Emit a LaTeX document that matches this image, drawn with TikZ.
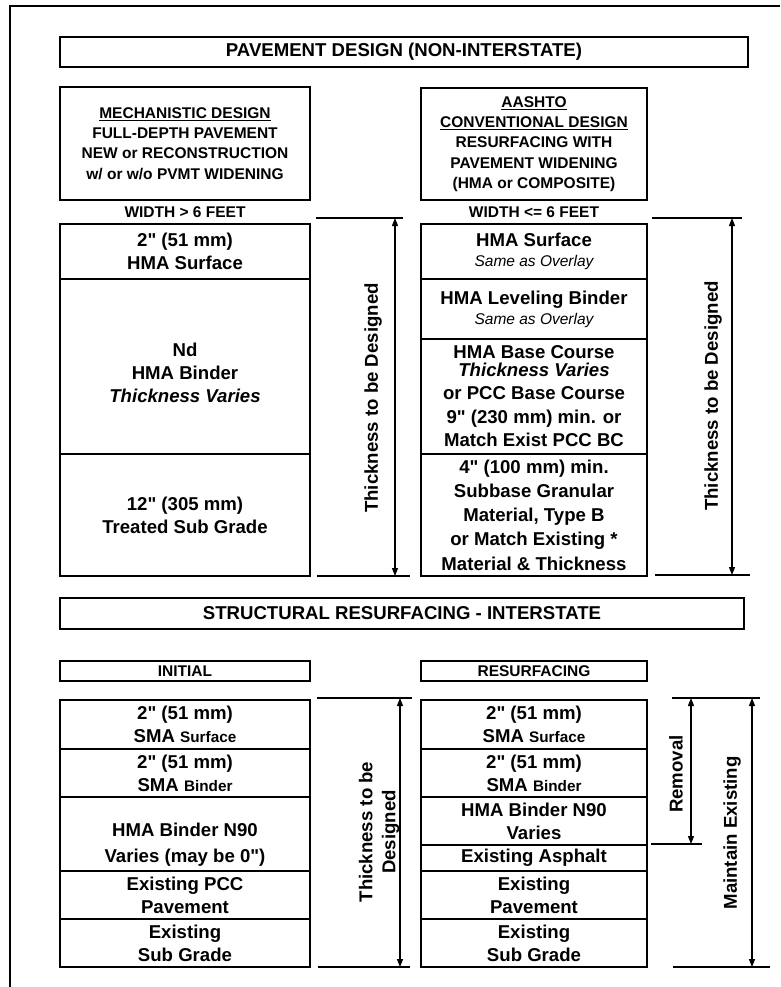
\documentclass[tikz,border=0pt]{standalone}
\usepackage{fontspec}
\setmainfont{Liberation Sans}[Ligatures=TeXOff]
\usetikzlibrary{arrows.meta,positioning}

\newcommand{\smallword}[1]{{\fontsize{15.3}{18}\selectfont #1}}
\newcommand{\overlaynote}{{\fontsize{15.5}{18}\selectfont\mdseries\itshape Same as Overlay}}

\begin{document}
\begin{tikzpicture}[
  x=1pt, y=-1pt,
  font=\fontsize{18.6}{23}\selectfont\bfseries,
  layer/.style={draw, line width=1.5pt, inner sep=0pt, outer sep=0pt, align=center},
  leftcol/.style={layer, minimum width=250pt},
  rightcol/.style={layer, minimum width=226pt},
  titlebox/.style={draw, line width=1.5pt, inner sep=0pt, minimum height=30pt},
  headbox/.style={draw, line width=1.5pt, inner sep=0pt, align=center, font=\fontsize{15.5}{20.3}\selectfont\bfseries},
  widthnote/.style={font=\fontsize{15.5}{18}\selectfont\bfseries},
  dim/.style={line width=1.2pt, {Triangle[length=8pt,width=6pt]}-{Triangle[length=8pt,width=6pt]}},
  ext/.style={line width=1.2pt},
  dimtext/.style={rotate=90, align=center}
]
\useasboundingbox (0,0) rectangle (780,987);
\draw[line width=1.5pt] (780,6) -- (10,6) -- (10,987);

% non-interstate part
\node[titlebox, minimum width=688pt] (ttlnon) at (404,52) {PAVEMENT DESIGN (NON-INTERSTATE)};
\node[headbox, minimum width=250pt, minimum height=113pt] (headmech) at (185,143.5)
  {\underline{MECHANISTIC DESIGN}\\FULL-DEPTH PAVEMENT\\NEW or RECONSTRUCTION\\w/ or w/o PVMT WIDENING};
\node[headbox, minimum width=226pt, minimum height=112pt] (headconv) at (534,144)
  {\underline{AASHTO}\\\underline{CONVENTIONAL DESIGN}\\RESURFACING WITH\\PAVEMENT WIDENING\\(HMA or COMPOSITE)};
\node[widthnote] (widemech) at (185,212) {WIDTH > 6 FEET};
\node[widthnote] (wideconv) at (534,212) {WIDTH <= 6 FEET};

\node[leftcol, minimum height=55pt] (msurf) at (185,251.5) {2" (51 mm)\\HMA Surface};
\node[leftcol, minimum height=175pt, below=0pt of msurf] (mbinder) {\rule{0pt}{26pt}Nd\\HMA Binder\\\textit{Thickness Varies}};
\node[leftcol, minimum height=122pt, below=0pt of mbinder] (msubgr) {12" (305 mm)\\Treated Sub Grade};

\node[rightcol, minimum height=55pt] (csurf) at (534,251.5) {HMA Surface\\[-3pt]\overlaynote};
\node[rightcol, minimum height=60pt, below=0pt of csurf] (clevel) {HMA Leveling Binder\\[-3pt]\overlaynote};
\node[rightcol, minimum height=115pt, below=0pt of clevel] (cbase)
  {HMA Base Course\\[-5pt]\textit{Thickness Varies}\\or PCC Base Course\\[1pt]9" (230 mm) min. or\\Match Exist PCC BC};
\node[rightcol, minimum height=122pt, below=0pt of cbase, font=\fontsize{18.6}{24.2}\selectfont\bfseries] (csubbase)
  {4" (100 mm) min.\\Subbase Granular\\Material, Type B\\or Match Existing *\\Material \& Thickness};

\coordinate (thkmtop) at (395,218);
\coordinate (thkmbot) at (395,576);
\draw[ext] ([xshift=-79pt]thkmtop) -- ([xshift=8pt]thkmtop);
\draw[ext] ([xshift=-78pt]thkmbot) -- ([xshift=15pt]thkmbot);
\draw[dim] (thkmtop) -- (thkmbot);
\node[dimtext] (thkmlabel) at (373,398) {Thickness to be Designed};

\coordinate (thkctop) at (732,218);
\coordinate (thkcbot) at (732,575);
\draw[ext] ([xshift=-80pt]thkctop) -- ([xshift=10pt]thkctop);
\draw[ext] ([xshift=-77pt]thkcbot) -- ([xshift=18pt]thkcbot);
\draw[dim] (thkctop) -- (thkcbot);
\node[dimtext] (thkclabel) at (713,396) {Thickness to be Designed};

% interstate part
\node[titlebox, minimum width=684pt, minimum height=31pt] (ttlint) at (402,613.5) {STRUCTURAL RESURFACING - INTERSTATE};
\node[titlebox, minimum width=250pt, minimum height=20pt, font=\fontsize{15.5}{18}\selectfont\bfseries] (headinit) at (185,671) {INITIAL};
\node[titlebox, minimum width=226pt, minimum height=20pt, font=\fontsize{15.5}{18}\selectfont\bfseries] (headresf) at (534,671) {RESURFACING};

\node[leftcol, minimum height=49pt] (isurf) at (185,724.5) {2" (51 mm)\\SMA \smallword{Surface}};
\node[leftcol, minimum height=48pt, below=0pt of isurf] (ibinder) {2" (51 mm)\\SMA \smallword{Binder}};
\node[leftcol, minimum height=74pt, below=0pt of ibinder] (in90) {\rule{0pt}{34pt}HMA Binder N90\\[3pt]Varies (may be 0")};
\node[leftcol, minimum height=48pt, below=0pt of in90] (ipcc) {Existing PCC\\Pavement};
\node[leftcol, minimum height=48pt, below=0pt of ipcc] (isubgr) {Existing\\Sub Grade};

\node[rightcol, minimum height=49pt] (rsurf) at (534,724.5) {2" (51 mm)\\SMA \smallword{Surface}};
\node[rightcol, minimum height=48pt, below=0pt of rsurf] (rbinder) {2" (51 mm)\\SMA \smallword{Binder}};
\node[rightcol, minimum height=48pt, below=0pt of rbinder] (rn90) {HMA Binder N90\\Varies};
\node[rightcol, minimum height=26pt, below=0pt of rn90] (rasph) {Existing Asphalt};
\node[rightcol, minimum height=48pt, below=0pt of rasph] (rpave) {Existing\\Pavement};
\node[rightcol, minimum height=48pt, below=0pt of rpave] (rsubgr) {Existing\\Sub Grade};

\coordinate (thkitop) at (400,698);
\coordinate (thkibot) at (400,967);
\draw[ext] ([xshift=-83pt]thkitop) -- ([xshift=12pt]thkitop);
\draw[ext] ([xshift=-82pt]thkibot) -- ([xshift=10pt]thkibot);
\draw[dim] (thkitop) -- (thkibot);
\node[dimtext] (thkilabel) at (379,832) {Thickness to be\\Designed};

\coordinate (remtop) at (691,698);
\coordinate (rembot) at (691,844);
\coordinate (keeptop) at (752,698);
\coordinate (keepbot) at (752,967);
\draw[ext] ([xshift=-19pt]remtop) -- ([xshift=8pt]keeptop);
\draw[ext] ([xshift=-40pt]rembot) -- ([xshift=11pt]rembot);
\draw[ext] ([xshift=-79pt]keepbot) -- ([xshift=18pt]keepbot);
\draw[dim] (remtop) -- (rembot);
\draw[dim] (keeptop) -- (keepbot);
\node[dimtext] (remlabel) at (676,774) {Removal};
\node[dimtext] (keeplabel) at (732,833) {Maintain Existing};
\end{tikzpicture}
\end{document}
